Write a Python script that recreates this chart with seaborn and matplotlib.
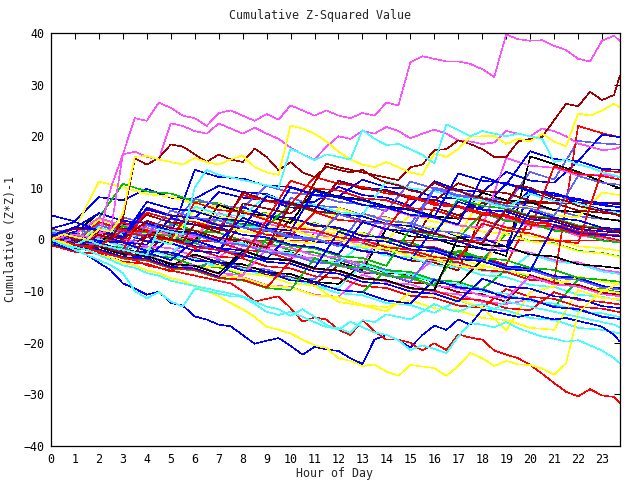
import numpy as np
import pandas as pd
import matplotlib
matplotlib.use("Agg")
import matplotlib.pyplot as plt
import seaborn as sns

# ---------------- data ----------------
hours_half = list(np.arange(0, 24, 0.5)) + [23.75]   # 49 points
hours_full = list(range(24)) + [23.75]               # 25 points

# prominent series (half-hour resolution)
mag_top = [0, 0.5, 1, 0.5, 0.5, 10, 16.5, 23.5, 23, 26.5,
           25.5, 24, 23.5, 22, 24.5, 25, 24, 23, 24.3, 23.2,
           26, 25, 24, 25, 24, 23.5, 24.5, 24, 26.5, 26,
           34.3, 35.5, 35, 34.5, 34.5, 34, 33, 31.5, 39.7, 38.8,
           38.5, 38.6, 37.5, 36.7, 35, 34.5, 38.5, 39.5, 38.4]
mag_second = [0, -0.5, 0.5, 0, 1, 2, 16.5, 17, 16, 15.5,
              22.5, 22, 21, 20.5, 22.5, 21.5, 20.5, 21.7, 20.5, 19.5,
              17.8, 16.5, 15.5, 18, 20, 19.5, 21, 20.5, 21.8, 21,
              19.6, 20.5, 21.3, 20.5, 19.2, 19, 18.5, 18.8, 21, 20.5,
              20, 21.5, 21, 20, 18.6, 18, 17.3, 17.5, 17.9]
dred_hump = [0, 1, 0, -0.5, 1, 0, 4, 15.7, 14.5, 15.8,
             18.4, 18, 16.5, 15, 16.5, 15.5, 15, 17.6, 16, 13.4,
             15, 13, 12.1, 14.1, 13.5, 13, 13.5, 12, 11, 10.5,
             9.5, 9, 11, 10, 9.5, 8.5, 8, 7.5, 7, 10.5,
             10, 9, 8, 7.5, 6.5, 6, 5.5, 5, 4.5]
dred_rise = [0, -1, -1.5, -2, -1, -2, -2.5, -3, 1, 0.5,
             0, -0.5, 3, 2.5, 2, 1.5, 7, 6.5, 6, 5.5,
             5, 7, 11, 14.7, 14, 13.5, 13, 12.5, 12, 11.5,
             14, 14.5, 17.3, 17.5, 19.2, 18.5, 17.5, 16, 16, 19,
             19.5, 19.9, 23.1, 26.3, 25.8, 28.6, 27, 28, 31.8]
yel_upper = [0, 1, 0.5, 0, 2, 1.5, 5, 16, 16.2, 15.5,
             15, 14.5, 15.8, 15, 14.5, 15.5, 16.3, 14, 13, 12.5,
             22.1, 21.5, 20.5, 19, 17, 15.5, 14.5, 14, 15, 14,
             13, 12.5, 16.7, 16, 17.5, 19.9, 20, 20.1, 18.5, 19.5,
             19, 20.5, 19, 18, 24.4, 24, 25, 26.3, 25.6]
cyan_upper = [0, -0.5, -1, 0, -1, -1.5, -2, -2.5, -3, 2,
              1.5, 1, 10, 13.5, 12.5, 12, 11.5, 11, 10.5, 10,
              17.6, 16.5, 15.4, 16.5, 16, 15.5, 21.2, 19.5, 18.3, 18.5,
              17.5, 16.4, 14.7, 22.3, 21.2, 20, 21, 20.5, 20, 20.5,
              20, 19.5, 15, 15.5, 14.5, 14, 13, 12.5, 12]
blue_low = [0, -1, -2, -3, -4.5, -6, -8.5, -9.5, -10.7, -10.1,
            -12.3, -12.8, -14.9, -15.5, -16.5, -16.8, -18.5, -20.2, -19.6, -19.1,
            -20.6, -22.3, -20.8, -21.3, -21.6, -23, -24.1, -19.4, -18.5, -19.5,
            -20.9, -18.5, -16.7, -17.5, -15.5, -16.5, -13.6, -14, -14.5, -15,
            -14.5, -15, -15.5, -15.2, -15.8, -16.3, -16.9, -18.5, -19.8]
red_low = [0, -0.5, -1, -1.5, -2.5, -3, -3.5, -4, -5, -5.5,
           -6, -6.5, -7, -7.5, -8, -8.5, -10, -12, -11.5, -11,
           -13.3, -15.9, -15.1, -15.5, -17.5, -18.5, -15.6, -17.8, -19.4, -19.4,
           -20, -21.5, -20.1, -21.4, -18.4, -19, -19.4, -21.5, -22.3, -23,
           -24.3, -26, -27.8, -29.5, -30.4, -29, -30.2, -30.5, -31.7]
yel_low = [0, -0.5, -1.5, -2, -3, -3.5, -4.5, -5, -6, -6.5,
           -7.5, -8, -9, -10, -11, -12.3, -13.5, -15, -16.9, -17.5,
           -18.2, -19.4, -20.5, -21, -23, -23.5, -24.5, -24.2, -25.6, -26.4,
           -24.3, -24.6, -24.9, -26.4, -24.5, -22, -23, -24.5, -23.5, -24.2,
           -24.3, -25, -26.2, -24, -14.3, -12, -10, -9, -8.5]
cyan_low = [0, -1, -1.5, -2, -3, -4, -5, -5.5, -6.5, -7,
            -8, -8.5, -9, -9.5, -10, -10.5, -11, -12, -13, -13.5,
            -14.8, -13.5, -15, -16.5, -17.5, -15.9, -17, -18, -18.5, -19.5,
            -21.4, -20.5, -21.2, -22, -18.8, -16.2, -16.5, -17, -16, -17.2,
            -18, -18.8, -19.2, -19.8, -19.5, -20.5, -21.5, -23, -24]
cyan_mid = [0, -1, -2, -3, -4, -5, -6.5, -10, -11.4, -10.2,
            -12, -13, -9.5, -10, -10.5, -11, -11.1, -12.5, -14, -14.6,
            -14, -15, -16, -17, -17.2, -18.1, -15.6, -16, -14.5, -15,
            -15.5, -14, -12.5, -13.5, -14, -13, -12.5, -13.5, -12, -12.5,
            -13, -13.5, -14, -14.5, -15, -15.5, -16, -16.5, -17]

# remaining series (hourly resolution)
b1 = [4.7, 3.5, 8.2, 7.6, 9.8, 8.1, 7.9, 10.4, 9.2, 8.8, 6.9, 7.3, 10.2, 8.6, 8.1, 6.5, 11.3, 9.6, 9.2, 13.1, 11.4, 11.0, 15.2, 13.7, 13.5]
b2 = [1.2, -0.3, -0.8, 2.4, 0.6, 0.9, 13.5, 12.1, 11.8, 10.4, 10.2, 8.7, 8.3, 11.6, 10.1, 9.8, 8.2, 7.9, 6.1, 10.8, 9.3, 8.9, 7.1, 6.8, 6.2]
b3 = [0.3, 1.5, 3.2, 2.1, 5.8, 4.6, 4.1, 9.2, 8.1, 7.6, 6.2, 5.8, 11.4, 10.1, 9.6, 8.2, 7.7, 6.3, 5.8, 4.4, 9.8, 8.5, 7.9, 6.6, 6.3]
b4 = [-0.8, -2.1, -0.6, -3.2, -3.5, 0.4, -1.3, -1.6, -3.2, -3.8, 1.2, -0.4, -0.9, -2.3, -2.7, -4.1, 2.3, 0.6, 0.2, -1.4, 9.2, 7.5, 7.1, 5.8, 5.5]
b5 = [2.1, 3.4, 1.8, 1.3, -0.4, -0.7, -2.2, -2.6, 6.3, 4.6, 4.2, 2.8, 2.3, 0.7, 0.4, -1.3, -1.7, -3.2, -3.6, -5.2, -5.5, -7.1, -7.4, -9.0, -9.4]
b6 = [0.2, 1.1, -0.3, -0.6, -2.2, -2.5, -4.1, -4.4, -6.0, -6.3, -7.9, -8.3, -9.8, -10.2, -11.8, -12.4, -7.8, -9.3, -9.7, -11.2, -11.6, -13.1, -13.5, -15.0, -15.4]
b7 = [0.8, 2.3, 5.1, 3.6, 3.2, 1.6, 1.2, -0.3, 4.2, 2.6, 10.1, 8.6, 8.2, 6.7, 6.2, 4.8, 4.3, 2.9, 12.2, 10.6, 17.1, 15.6, 15.2, 20.3, 19.8]
b8 = [-0.3, -1.6, -1.9, -3.4, -3.7, -5.3, -5.6, -7.2, -2.8, -4.3, -4.7, -6.2, -6.6, -8.2, -8.6, -10.1, -10.5, -12.0, -7.6, -9.1, -9.5, -11.0, -11.4, -12.9, -13.3]
b9 = [0.5, -0.8, 1.6, 0.2, 6.1, 4.6, 4.2, 2.7, 2.3, 8.4, 6.8, 6.4, 4.9, 4.5, 3.0, 2.6, 1.1, 7.3, 5.8, 5.4, 3.9, 3.5, 2.0, 1.6, 1.3]
b10 = [1.0, -0.2, -0.6, -2.1, -2.5, -4.0, -0.2, -1.7, -2.1, -3.6, -4.0, -5.5, 1.5, 0.0, -0.4, -1.9, -2.3, -3.8, -4.2, -5.7, -6.1, 2.8, 1.3, 0.9, 0.6]
b11 = [0.6, 2.4, 1.9, 0.5, 7.3, 6.0, 5.5, 4.1, 3.6, 2.2, 1.7, 9.4, 8.1, 7.6, 6.2, 5.7, 4.3, 12.8, 11.4, 10.9, 9.5, 9.0, 7.6, 7.1, 6.8]
b12 = [-0.4, -1.8, 0.9, -0.5, -1.0, 4.2, 2.8, 2.3, 0.9, 0.4, -1.0, -1.5, -2.9, 3.4, 2.0, 1.5, 0.1, -0.4, -1.8, -2.3, 5.6, 4.2, 3.7, 2.3, 2.0]
r1 = [0.2, 1.3, -0.2, -0.6, 3.1, 1.6, 1.2, -0.3, -0.7, -2.2, 4.2, 2.7, 2.3, 0.8, 0.4, -1.1, -1.5, -3.0, -3.4, -4.9, 4.3, 2.8, 2.4, 0.9, 0.6]
r2 = [-1.1, -2.4, -2.8, -4.3, -4.7, -6.2, -1.8, -3.3, -3.7, -5.2, -5.6, -7.1, -7.5, -9.0, -9.4, -10.9, -11.3, -12.8, -13.2, -9.6, -11.1, -11.5, -13.0, -13.4, -14.1]
r3 = [2.0, 0.6, 0.2, 3.3, 1.8, 1.4, -0.1, -0.5, -2.0, -2.4, -3.9, 1.3, -0.2, -0.6, -2.1, -2.5, -4.0, -4.4, -5.9, -6.3, -7.8, -8.2, 22.0, 20.6, 19.8]
r4 = [0.1, -1.2, 2.1, 0.6, 5.2, 3.9, 3.4, 2.1, 8.6, 7.4, 6.8, 12.1, 10.8, 10.2, 8.9, 8.4, 7.1, 6.5, 5.2, 4.7, 3.4, 2.9, 1.6, 1.1, 0.8]
r5 = [1.1, -0.2, -0.6, -2.1, 6.2, 4.7, 4.3, 2.8, 2.4, 0.9, 0.5, 5.3, 3.8, 3.4, 1.9, 8.2, 6.7, 6.3, 4.8, 4.4, 2.9, 2.5, 1.0, 0.6, -0.2]
r6 = [0, 0, 0, 0, 0, 0, 0, 0, 0, 0, 0, 0, 0, 0, 0, 0, 0, 0, 0, 0, 0, 0, 0, 0, 0]
r7 = [0.6, -0.7, 3.4, 1.9, 1.5, 0.0, 7.2, 5.7, 5.3, 3.8, 11.4, 9.9, 9.5, 8.0, 7.6, 6.1, 5.7, 4.2, 3.8, 2.3, 1.9, 14.2, 12.7, 12.3, 11.6]
r8 = [-0.4, -1.7, -2.1, -3.6, -4.0, -5.5, -5.9, -7.4, -7.8, -9.3, -4.2, -5.7, -6.1, -7.6, -8.0, -9.5, -9.9, -11.4, -11.8, -13.3, -13.7, -10.2, -11.7, -12.1, -12.6]
r9 = [0.3, -1.0, -1.4, 1.8, 0.4, -0.1, -1.5, -2.0, -3.4, 3.7, 2.3, 1.8, 0.4, -0.1, -1.5, -2.0, -3.4, -3.9, 3.1, 1.7, 1.2, -0.2, -0.7, 13.4, 13.0]
g1 = [0.2, -1.1, -1.5, -3.0, -3.4, 3.2, 1.7, 1.3, -0.2, -0.6, -2.1, -2.5, -4.0, -4.4, -5.9, -6.3, -7.8, -8.2, -9.7, -5.8, -7.3, -7.7, -9.2, -9.6, -10.3]
g2 = [1.0, -0.3, 4.2, 10.8, 9.3, 8.9, 7.4, 7.0, 5.5, 5.1, 3.6, 3.2, 1.7, 1.3, -0.2, -0.6, -2.1, -2.5, -4.0, 1.2, -0.3, -0.7, -2.2, -2.6, -3.3]
g3 = [0.1, 1.2, -0.3, -0.7, -2.2, -2.6, -4.1, -4.5, -6.0, -6.4, -7.9, -8.3, -9.8, -10.2, -5.9, -7.4, -7.8, -9.3, -9.7, -11.2, -11.6, -13.1, -7.8, -9.3, -9.6]
g4 = [-0.9, 0.3, -1.2, -1.6, -3.1, -3.5, -5.0, -5.4, -6.9, 0.2, -1.3, -1.7, -3.2, -3.6, -5.1, 2.1, 0.6, 0.2, 5.1, 3.6, 3.2, 1.7, 1.3, -0.2, -0.6]
g5 = [0.4, -0.9, -1.3, 2.6, 1.1, 0.7, -0.8, 4.4, 2.9, 2.5, 6.8, 5.4, 4.9, 3.5, 3.0, 1.6, 1.1, 7.9, 6.5, 6.0, 4.6, 4.1, 2.7, 2.2, 1.9]
g6 = [-0.5, -1.8, -2.2, -3.7, -4.1, -5.6, -6.0, -7.5, -7.9, -9.4, -9.8, -3.6, -5.1, -5.5, -7.0, -7.4, -8.9, -2.1, -3.6, -4.0, -5.5, -5.9, -7.4, -7.8, -8.2]
m1 = [0.1, -1.2, -1.6, -3.1, -3.5, -5.0, -5.4, -6.9, -7.3, -8.8, -9.2, -10.7, -11.1, -6.8, -8.3, -8.7, -10.2, -10.6, -12.1, -12.5, -11.6, -13.1, -13.5, -15.0, -15.4]
m2 = [1.2, 2.1, 0.6, 0.2, -1.3, -1.7, -3.2, -3.6, 0.3, -1.2, -1.6, -3.1, -3.5, -5.0, 3.2, 1.7, 1.3, -0.2, -0.6, -2.1, -2.5, -4.0, -4.4, -5.9, -6.4]
m3 = [-0.2, -1.1, 0.2, -1.3, -1.7, 2.1, 0.6, 0.2, -1.3, -1.7, -3.2, -3.6, -5.1, -5.5, -7.0, -7.4, -3.8, -5.3, -5.7, 4.1, 2.6, 2.2, 0.7, 0.3, -0.3]
m4 = [0.3, 1.1, 4.2, 2.7, 2.3, 0.8, 0.4, 5.1, 3.6, 3.2, 1.7, 1.3, -0.2, -0.6, 6.1, 4.6, 4.2, 2.7, 2.3, 15.8, 14.3, 13.9, 12.4, 12.6, 12.1]
m5 = [0.5, -0.8, -1.2, -2.7, -3.1, -4.6, -5.0, -6.5, -6.9, -1.8, -3.3, -3.7, -5.2, -5.6, -7.1, -7.5, -9.0, -9.4, -10.9, -11.3, -7.2, -8.7, -9.1, -10.6, -11.0]
c1 = [0.2, -1.1, -1.5, -3.0, -3.4, -4.9, -5.3, -5.1, -6.6, -7.0, -8.5, -8.9, -10.4, -10.8, -12.3, -12.7, -14.2, -11.8, -13.3, -13.7, -15.2, -15.6, -17.1, -17.5, -18.2]
c2 = [0.8, -0.4, 3.1, 1.6, 1.2, -0.3, -0.7, 4.1, 2.6, 2.2, 0.7, 0.3, -1.2, -1.6, -3.1, -3.5, -5.0, -5.4, -6.9, -7.3, -8.8, -9.2, -10.7, -11.1, -11.8]
c3 = [-0.1, 1.0, -0.4, -0.8, -2.3, -2.7, 1.2, -0.3, -0.7, -2.2, -2.6, -4.1, -4.5, -0.8, -2.3, -2.7, -4.2, -4.6, -6.1, -6.5, -2.8, -4.3, -4.7, -6.2, -6.7]
c4 = [1.8, 0.5, 0.1, -1.4, -1.8, -3.3, -3.7, -5.2, -5.6, -7.1, -7.5, -9.0, -9.4, -4.8, -6.3, -6.7, -8.2, -8.6, -10.1, -10.5, -12.0, -12.4, -13.9, -14.3, -15.0]
c5 = [0.4, -0.9, 2.4, 0.9, 0.5, -1.0, 6.4, 4.9, 4.5, 8.6, 7.2, 6.7, 5.3, 4.8, 11.3, 9.9, 9.4, 8.0, 7.5, 6.1, 8.9, 7.4, 7.0, 5.5, 5.2]
d1 = [0.1, -1.2, -1.6, -3.1, 1.2, -0.3, -0.7, -2.2, 3.1, 1.6, 1.2, -0.3, -0.7, -2.2, -2.6, -4.1, -4.5, -6.0, 5.2, 3.7, 3.3, 1.8, 1.4, -0.1, -0.6]
d2 = [0.9, -0.4, -0.8, -2.3, -2.7, 2.1, 0.6, 0.2, -1.3, -1.7, 4.1, 2.6, 2.2, 0.7, 0.3, -1.2, 6.2, 4.7, 7.1, 7.1, 7.1, 7.1, 7.1, 7.1, 7.1]
d3 = [-0.2, -1.1, 0.3, -1.2, -1.6, -3.1, -3.5, -5.0, -5.4, -6.9, -7.3, -8.8, -4.9, -6.4, -6.8, -8.3, -8.7, -10.2, -10.6, -12.1, -6.9, -8.4, -8.8, -10.3, -10.7]
d4 = [0.6, 2.1, 1.7, 0.2, 4.8, 3.3, 2.9, 1.4, 9.1, 7.6, 7.2, 5.7, 11.3, 9.8, 9.4, 7.9, 7.5, 10.9, 9.4, 9.0, 7.5, 7.1, 5.6, 5.2, 4.8]
d5 = [0.2, -1.1, 1.4, 0.0, 3.6, 2.2, 1.7, 0.3, -0.2, -1.6, 6.9, 5.5, 5.0, 3.6, 3.1, 1.7, 1.2, -0.2, -0.7, 5.8, 4.4, 3.9, 2.5, 2.0, 1.6]
y1 = [0.3, 2.1, 11.2, 10.1, 8.8, 8.3, 6.9, 6.4, 5.1, 4.2, 3.3, 1.8, 1.1, -0.2, -1.2, -1.9, -3.2, -3.8, -5.1, -5.9, -7.0, -7.8, -9.1, -9.8, -10.4]
y2 = [-0.2, -1.3, -1.7, -3.2, -3.6, -5.1, -5.5, -7.0, -7.4, -8.9, -9.3, -10.8, -11.2, -12.7, -13.1, -11.8, -13.3, -13.7, -15.2, -15.6, -17.1, -17.5, -9.8, -11.3, -11.6]
y3 = [1.1, -0.2, 3.9, 2.4, 2.0, 0.5, 0.1, 6.9, 5.4, 5.0, 3.5, 3.1, 1.6, 1.2, -0.3, 4.9, 3.4, 3.0, 1.5, 1.1, -0.4, -0.8, -2.3, -2.7, -3.4]
y4 = [0.2, 1.1, -0.3, -0.7, -2.2, 4.9, 3.4, 3.0, 1.5, 1.1, -0.4, -0.8, 6.1, 4.6, 4.2, 2.7, 2.3, 0.8, 8.1, 6.6, 6.2, 4.7, 4.3, 9.1, 8.6]
y5 = [-0.3, -1.4, -1.8, -3.3, -3.7, -5.2, -5.6, -5.1, -6.6, -7.0, -8.5, -8.9, -12.1, -12.8, -13.9, -10.2, -10.6, -11.7, -13.1, -17.6, -10.2, -9.1, -7.2, -8.1, -8.6]
y6 = [0.5, -0.8, 2.9, 1.4, 1.0, -0.5, 5.8, 4.3, 3.9, 2.4, 2.0, 0.5, 0.1, -1.4, -1.8, -3.3, -3.7, -5.2, -5.6, 2.1, 0.6, 0.2, -1.3, -1.7, -2.2]
k1 = [0.1, 1.2, 5.1, 3.6, 3.2, 1.7, 1.3, -0.2, -0.6, -2.1, -2.5, -4.0, -4.4, -5.9, 2.1, 0.6, 0.2, -1.3, -1.7, -3.2, 16.1, 14.6, 13.1, 11.2, 9.9]
k2 = [-0.1, -1.3, -1.7, -3.2, -3.6, -5.1, -2.9, -4.4, -4.8, -6.3, -6.7, -8.2, -8.6, -4.9, -6.4, -6.8, -8.3, -8.7, -3.9, -5.4, -5.8, -7.3, -7.7, -9.2, -9.6]
k3 = [1.0, -0.3, -0.7, 3.1, 1.6, 1.2, -0.3, 6.7, 5.1, 4.6, 3.2, 9.7, 8.3, 7.8, 6.4, 5.9, 4.5, 4.0, 9.1, 7.6, 7.2, 5.7, 5.3, 4.1, 3.6]
k4 = [0.4, -0.9, -1.3, -2.8, -3.2, -4.7, -5.1, -6.6, -2.2, -3.7, -4.1, -5.6, -6.0, -7.5, -7.9, -9.4, -9.8, 0.5, -1.0, -1.4, -2.9, -3.3, -4.8, -5.2, -5.6]
s1 = [2.1, 0.8, 0.4, -1.1, -1.5, -3.0, 1.1, -0.4, -0.8, -2.3, 8.1, 6.6, 6.2, 4.7, 4.3, 2.8, 10.1, 8.6, 8.2, 6.7, 13.1, 11.6, 19.1, 18.6, 18.4]
s2 = [-0.1, -1.3, -1.7, -3.2, -3.6, -5.1, -5.5, -3.9, -5.4, -5.8, -7.3, -7.7, -3.9, -5.4, -5.8, -7.3, -7.7, -9.2, -9.6, -11.1, -11.5, -13.0, -13.4, -14.9, -15.4]
s3 = [1.1, 2.2, 0.7, 4.3, 3.1, 2.6, 7.9, 6.6, 6.1, 10.4, 9.1, 8.6, 7.3, 6.8, 5.5, 11.2, 9.9, 9.4, 8.1, 7.6, 6.3, 5.8, 4.5, 4.0, 3.7]
s4 = [0.2, -1.1, 3.1, 1.6, 1.2, -0.3, -0.7, -2.2, -2.6, 2.1, 0.6, 0.2, -1.3, 5.1, 3.6, 3.2, 1.7, 1.3, -0.2, 6.1, 4.6, 4.2, 2.7, 2.3, 1.8]
s5 = [0.7, -0.6, -1.0, -2.5, 2.8, 1.3, 0.9, -0.6, -1.0, -2.5, -2.9, -4.4, -4.8, -6.3, -6.7, -8.2, -2.1, -3.6, -4.0, -5.5, -5.9, -7.4, -7.8, -9.3, -9.7]
s6 = [1.3, 0.1, 2.8, 1.4, 0.9, 5.6, 4.2, 3.7, 2.3, 1.8, 0.4, -0.1, 4.9, 3.5, 3.0, 1.6, 9.8, 8.4, 7.9, 6.5, 6.0, 4.6, 12.3, 11.0, 10.6]

RED, GREEN, BLUE, MAG, CYAN = "#ff0000", "#00c000", "#0000ff", "#ff50ff", "#40ffff"
DRED, YEL, BLK, SLATE = "#a00000", "#ffff00", "#000000", "#6060ff"

half_series = [
    ("mag_top", mag_top, MAG), ("mag_second", mag_second, MAG),
    ("dred_hump", dred_hump, DRED), ("dred_rise", dred_rise, DRED),
    ("yel_upper", yel_upper, YEL), ("cyan_upper", cyan_upper, CYAN),
    ("blue_low", blue_low, BLUE), ("red_low", red_low, RED),
    ("yel_low", yel_low, YEL), ("cyan_low", cyan_low, CYAN),
    ("cyan_mid", cyan_mid, CYAN),
]
full_series = [
    ("r6", r6, RED), ("b1", b1, BLUE), ("g1", g1, GREEN), ("c1", c1, CYAN),
    ("y1", y1, YEL), ("d1", d1, DRED), ("m1", m1, MAG), ("s1", s1, SLATE),
    ("k1", k1, BLK), ("r1", r1, RED), ("b2", b2, BLUE), ("g2", g2, GREEN),
    ("c2", c2, CYAN), ("y2", y2, YEL), ("d2", d2, DRED), ("m2", m2, MAG),
    ("s2", s2, SLATE), ("k2", k2, BLK), ("r2", r2, RED), ("b3", b3, BLUE),
    ("g3", g3, GREEN), ("c3", c3, CYAN), ("y3", y3, YEL), ("d3", d3, DRED),
    ("m3", m3, MAG), ("s3", s3, SLATE), ("k3", k3, BLK), ("r3", r3, RED),
    ("b4", b4, BLUE), ("g4", g4, GREEN), ("c4", c4, CYAN), ("y4", y4, YEL),
    ("m4", m4, MAG), ("s4", s4, SLATE), ("r4", r4, RED), ("b5", b5, BLUE),
    ("g5", g5, GREEN), ("c5", c5, CYAN), ("y5", y5, YEL), ("d4", d4, DRED),
    ("m5", m5, MAG), ("s5", s5, SLATE), ("r5", r5, RED), ("b6", b6, BLUE),
    ("g6", g6, GREEN), ("y6", y6, YEL), ("r7", r7, RED), ("b7", b7, BLUE),
    ("r8", r8, RED), ("b8", b8, BLUE), ("b9", b9, BLUE), ("b10", b10, BLUE),
    ("k4", k4, BLK), ("d5", d5, DRED), ("s6", s6, SLATE), ("b11", b11, BLUE),
    ("r9", r9, RED), ("b12", b12, BLUE),
]

rows = []
palette = {}
for name, vals, col in half_series:
    palette[name] = col
    for h, v in zip(hours_half, vals):
        rows.append((name, h, v))
for name, vals, col in full_series:
    palette[name] = col
    for h, v in zip(hours_full, vals):
        rows.append((name, h, v))
df = pd.DataFrame(rows, columns=["series", "hour", "value"])
order = [n for n, _, _ in full_series] + [n for n, _, _ in half_series]

# ---------------- plot ----------------
sns.set_style("white")
plt.rcParams["font.family"] = ["DejaVu Sans Mono"]
plt.rcParams["lines.antialiased"] = False

fig = plt.figure(figsize=(6.4, 4.8), dpi=100)
ax = fig.add_axes([51 / 640, (480 - 446) / 480, (620 - 51) / 640, (446 - 33) / 480])

sns.lineplot(data=df, x="hour", y="value", hue="series", hue_order=order,
             palette=palette, estimator=None, legend=False, sort=False,
             linewidth=0.4, antialiased=False, ax=ax)

ax.set_xlim(0, 23.75)
ax.set_ylim(-40, 40)
ax.set_xticks(range(24))
ax.set_yticks(range(-40, 41, 10))
ax.tick_params(direction="in", length=4.3, width=0.75, top=True, right=True,
               labelsize=8.4, pad=5, colors="black")
for sp in ax.spines.values():
    sp.set_visible(True)
    sp.set_linewidth(0.9)
    sp.set_color("black")
ax.set_xlabel("")
ax.set_ylabel("")

fig.text(0.5, 1 - 15.5 / 480, "Cumulative Z-Squared Value", ha="center", va="center", fontsize=8.4)
fig.text(335 / 640, 1 - 473 / 480, "Hour of Day", ha="center", va="center", fontsize=8.4)
fig.text(11 / 640, 1 - 239 / 480, "Cumulative (Z*Z)-1", ha="center", va="center",
         rotation=90, fontsize=8.4)

fig.savefig("out.png", dpi=100, facecolor="white")
